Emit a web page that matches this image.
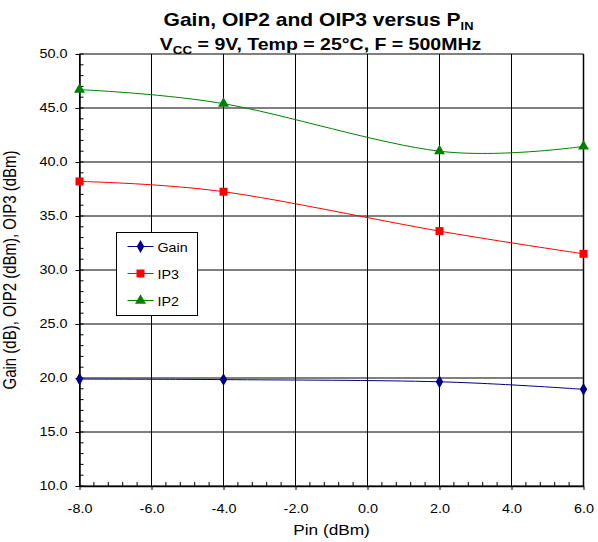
<!DOCTYPE html>
<html>
<head>
<meta charset="utf-8">
<script src="https://cdn.jsdelivr.net/npm/d3@7"></script>
<style>
  body { margin: 0; background: #fff; }
  #svg-container { width: 598px; height: 542px; }
  text { font-family: Arial, "Liberation Sans", sans-serif; fill: #000; }
</style>
</head>
<body>
<div id="svg-container"></div>
<script>
////////////////////////////////////////////////////////////////////
////////////////////////////  Data  ////////////////////////////////
const pin = [-8, -4, 2, 6];
const gain = [19.9, 19.85, 19.65, 18.95];
const ip3 = [38.2, 37.25, 33.6, 31.5];
const ip2 = [46.7, 45.4, 41.0, 41.45];

const xTicks = [-8, -6, -4, -2, 0, 2, 4, 6];
const yTicks = [10, 15, 20, 25, 30, 35, 40, 45, 50];
const seriesNames = ["Gain", "IP3", "IP2"];

////////////////////////////////////////////////////////////////////
////////////////////////////  Init  ////////////////////////////////
const width = 598;
const height = 542;
const margin = { top: 54, right: 14.5, bottom: 56, left: 79.5 };
// the original picture is a bit wider than tall, text looks stretched
const sx = 1.2;

const svg = d3
  .select("#svg-container")
  .append("svg")
  .attr("width", width)
  .attr("height", height);

const xScale = d3
  .scaleLinear()
  .domain([-8, 6])
  .range([margin.left, width - margin.right]);
const yScale = d3
  .scaleLinear()
  .domain([10, 50])
  .range([height - margin.bottom, margin.top]);

// plain hyphen for negatives, like the original
const fmt = (d) => d.toFixed(1);

const series = [
  { name: "Gain", values: gain, color: "#000080", symbol: d3.symbolDiamond, size: 48 },
  { name: "IP3", values: ip3, color: "#FF0000", symbol: d3.symbolSquare, size: 64 },
  { name: "IP2", values: ip2, color: "#008000", symbol: d3.symbolTriangle, size: 52 },
];

////////////////////////////////////////////////////////////////////
////////////////////////////  Grid  ////////////////////////////////
svg
  .append("g")
  .selectAll("line")
  .data(xTicks)
  .join("line")
  .attr("x1", (d) => xScale(d))
  .attr("x2", (d) => xScale(d))
  .attr("y1", margin.top)
  .attr("y2", height - margin.bottom)
  .attr("stroke", "#000")
  .attr("stroke-width", 1);

svg
  .append("g")
  .selectAll("line")
  .data(yTicks)
  .join("line")
  .attr("x1", margin.left)
  .attr("x2", width - margin.right)
  .attr("y1", (d) => yScale(d))
  .attr("y2", (d) => yScale(d))
  .attr("stroke", "#000")
  .attr("stroke-width", 1);

////////////////////////////////////////////////////////////////////
////////////////////////////  Axes  ////////////////////////////////
const xAxis = d3
  .axisBottom(xScale)
  .tickValues(xTicks)
  .tickSize(4)
  .tickPadding(14)
  .tickSizeOuter(0)
  .tickFormat(fmt);
const yAxis = d3
  .axisLeft(yScale)
  .tickValues(yTicks)
  .tickSize(4)
  .tickPadding(8)
  .tickSizeOuter(0)
  .tickFormat(fmt);

const gx = svg
  .append("g")
  .attr("transform", `translate(0, ${height - margin.bottom})`)
  .call(xAxis);
const gy = svg
  .append("g")
  .attr("transform", `translate(${margin.left}, 0)`)
  .call(yAxis);

[gx, gy].forEach((g) => {
  g.selectAll("text")
    .style("font-size", "12px")
    .attr("fill", "#000")
    .attr("transform", `scale(${sx}, 1)`);
  g.select(".domain").attr("stroke", "#000").attr("stroke-width", 1.5);
  g.selectAll(".tick line").attr("stroke", "#000");
});
gy.selectAll("text").attr("x", -12 / sx);

// minor ticks (inside)
const xMinor = d3.range(-8, 6.001, 0.4);
svg
  .append("g")
  .selectAll("line")
  .data(xMinor)
  .join("line")
  .attr("x1", (d) => xScale(d))
  .attr("x2", (d) => xScale(d))
  .attr("y1", height - margin.bottom)
  .attr("y2", height - margin.bottom - 4)
  .attr("stroke", "#000");

const yMinor = d3.range(10, 50.001, 1);
svg
  .append("g")
  .selectAll("line")
  .data(yMinor)
  .join("line")
  .attr("x1", margin.left)
  .attr("x2", margin.left + 4)
  .attr("y1", (d) => yScale(d))
  .attr("y2", (d) => yScale(d))
  .attr("stroke", "#000");

// right frame
svg
  .append("line")
  .attr("x1", width - margin.right)
  .attr("x2", width - margin.right)
  .attr("y1", margin.top)
  .attr("y2", height - margin.bottom)
  .attr("stroke", "#000")
  .attr("stroke-width", 1.5);

////////////////////////////////////////////////////////////////////
////////////////////////////  Lines  ///////////////////////////////
const line = d3
  .line()
  .curve(d3.curveCardinal)
  .x((d, i) => xScale(pin[i]))
  .y((d) => yScale(d));

series.forEach((s) => {
  svg
    .append("path")
    .datum(s.values)
    .attr("d", line)
    .attr("fill", "none")
    .attr("stroke", s.color)
    .attr("stroke-width", 1);

  svg
    .append("g")
    .selectAll("path")
    .data(s.values)
    .join("path")
    .attr("transform", (d, i) => `translate(${xScale(pin[i])}, ${yScale(d)})`)
    .attr("d", d3.symbol().type(s.symbol).size(s.size))
    .attr("fill", s.color);
});

////////////////////////////////////////////////////////////////////
////////////////////////////  Legend  //////////////////////////////
const legend = svg.append("g").attr("transform", "translate(116.5, 232.5)");
legend
  .append("rect")
  .attr("width", 81)
  .attr("height", 83)
  .attr("fill", "#fff")
  .attr("stroke", "#000");

series.forEach((s, i) => {
  const y = 14 + i * 27;
  legend
    .append("line")
    .attr("x1", 11)
    .attr("x2", 37)
    .attr("y1", y)
    .attr("y2", y)
    .attr("stroke", s.color);
  legend
    .append("path")
    .attr("transform", `translate(24, ${y})`)
    .attr("d", d3.symbol().type(s.symbol).size(s.size))
    .attr("fill", s.color);
  legend
    .append("text")
    .attr("transform", `translate(41, ${y + 5}) scale(1.1, 1)`)
    .style("font-size", "13px")
    .text(seriesNames[i]);
});

////////////////////////////////////////////////////////////////////
////////////////////////////  Titles  //////////////////////////////
const title1 = svg
  .append("text")
  .attr("transform", `translate(318.5, 26) scale(1.17, 1)`)
  .attr("text-anchor", "middle")
  .style("font-size", "18px")
  .style("font-weight", "bold");
title1.append("tspan").text("Gain, OIP2 and OIP3 versus P");
title1.append("tspan").attr("dy", 4).style("font-size", "11px").text("IN");

const title2 = svg
  .append("text")
  .attr("transform", `translate(320.5, 50) scale(1.22, 1)`)
  .attr("text-anchor", "middle")
  .style("font-size", "16px")
  .style("font-weight", "bold");
title2.append("tspan").text("V");
title2.append("tspan").attr("dy", 4).style("font-size", "11px").text("CC");
title2.append("tspan").attr("dy", -4).text(" = 9V, Temp = 25°C, F = 500MHz");

svg
  .append("text")
  .attr("transform", `translate(${(margin.left + width - margin.right) / 2}, 535) scale(1.15, 1)`)
  .attr("text-anchor", "middle")
  .style("font-size", "15px")
  .text("Pin (dBm)");

svg
  .append("text")
  .attr("transform", `translate(16, ${(margin.top + height - margin.bottom) / 2}) scale(${sx}, 1) rotate(-90)`)
  .attr("text-anchor", "middle")
  .style("font-size", "15px")
  .text("Gain (dB), OIP2 (dBm), OIP3 (dBm)");
</script>
</body>
</html>
